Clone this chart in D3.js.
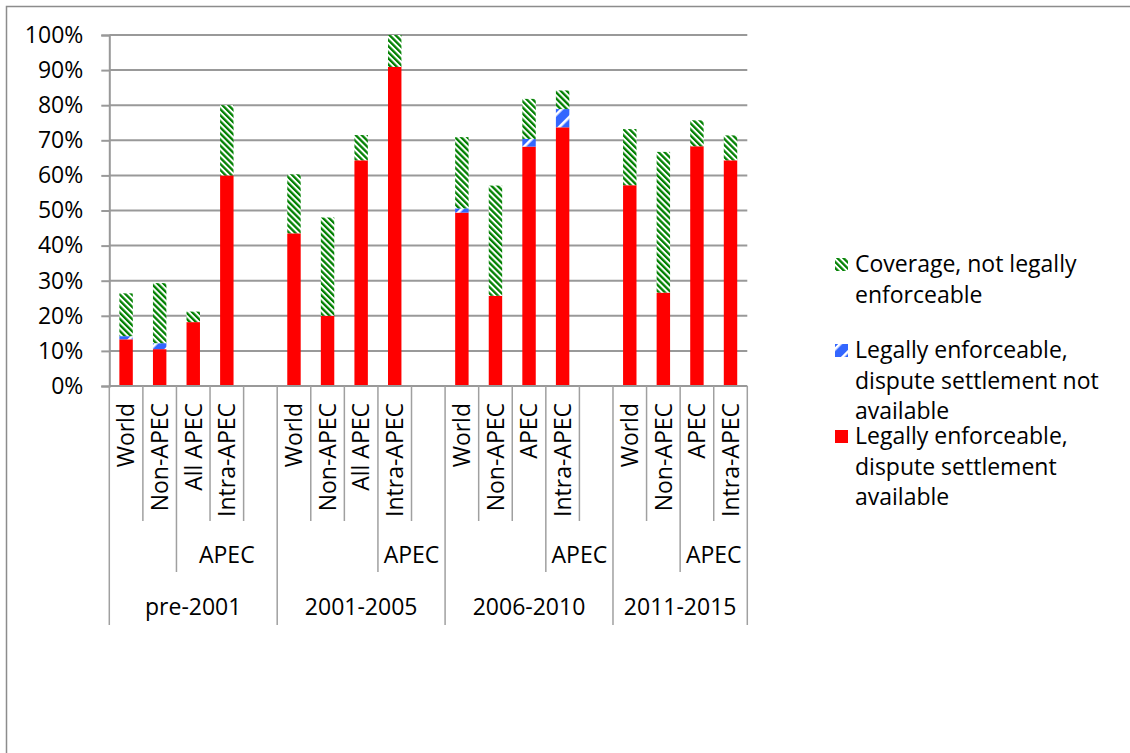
<!DOCTYPE html>
<html>
<head>
<meta charset="utf-8">
<script src="https://cdn.jsdelivr.net/npm/d3@7"></script>
<style>
  html, body { margin: 0; padding: 0; background: #fff; }
  svg { display: block; }
  text { font-family: "Open Sans", Lato, sans-serif; fill: #000; }
</style>
</head>
<body>
<svg id="chart" width="1130" height="753"></svg>
<script>
// Periods and the categories shown within each one
const periods = ["pre-2001", "2001-2005", "2006-2010", "2011-2015"];
const periodCategories = [
  ["World", "Non-APEC", "All APEC", "Intra-APEC"],
  ["World", "Non-APEC", "All APEC", "Intra-APEC"],
  ["World", "Non-APEC", "APEC", "Intra-APEC"],
  ["World", "Non-APEC", "APEC", "Intra-APEC"]
];
// First category of each period that sits under the "APEC" heading
const apecHeadingStart = ["All APEC", "Intra-APEC", "Intra-APEC", "APEC"];
const apecHeading = "APEC";

// Shares of trade (fractions), one value per category in reading order
const enforceableWithDS = [0.133, 0.105, 0.182, 0.600, 0.435, 0.200, 0.643, 0.909, 0.494, 0.257, 0.682, 0.737, 0.572, 0.266, 0.683, 0.643];
const enforceableNoDS   = [0.009, 0.017, 0.000, 0.000, 0.000, 0.000, 0.000, 0.000, 0.012, 0.000, 0.022, 0.052, 0.000, 0.000, 0.000, 0.000];
const coverageOnly      = [0.122, 0.171, 0.030, 0.200, 0.168, 0.280, 0.072, 0.091, 0.203, 0.314, 0.114, 0.053, 0.160, 0.401, 0.074, 0.071];

const seriesKeys = ["withDS", "noDS", "coverage"];
const seriesLabels = {
  coverage: ["Coverage, not legally", "enforceable"],
  noDS: ["Legally enforceable,", "dispute settlement not", "available"],
  withDS: ["Legally enforceable,", "dispute settlement", "available"]
};
const legendOrder = ["coverage", "noDS", "withDS"];
const yTicks = [0, 0.1, 0.2, 0.3, 0.4, 0.5, 0.6, 0.7, 0.8, 0.9, 1.0];

const FONT = 23;
const svg = d3.select("#chart");

// Fill patterns
const defs = svg.append("defs");
const green = defs.append("pattern")
  .attr("id", "pat-coverage").attr("patternUnits", "userSpaceOnUse")
  .attr("width", 4.3).attr("height", 4.3)
  .attr("patternTransform", "rotate(-45)");
green.append("rect").attr("width", 4.3).attr("height", 4.3).attr("fill", "#fff");
green.append("rect").attr("width", 2.3).attr("height", 4.3).attr("fill", "#008000");

const blue = defs.append("pattern")
  .attr("id", "pat-noDS").attr("patternUnits", "userSpaceOnUse")
  .attr("width", 11).attr("height", 11)
  .attr("patternTransform", "rotate(45)");
blue.append("rect").attr("width", 11).attr("height", 11).attr("fill", "#3366ff");
blue.append("rect").attr("width", 2.6).attr("height", 11).attr("fill", "#fff");

const fills = { withDS: "#ff0000", noDS: "url(#pat-noDS)", coverage: "url(#pat-coverage)" };

// Outer frame
svg.append("path")
  .attr("d", "M6.5,753 V6.5 H1130")
  .attr("fill", "none").attr("stroke", "#8c8c8c").attr("stroke-width", 1.5);

// Build slots: each period's categories followed by an empty slot (except the last period)
const slots = [];
const rows = [];
periods.forEach((p, gi) => {
  periodCategories[gi].forEach(c => {
    const key = p + "|" + c;
    slots.push(key);
    rows.push({ key, period: p, category: c });
  });
  if (gi < periods.length - 1) slots.push(p + "|gap");
});
rows.forEach((r, i) => {
  r.withDS = enforceableWithDS[i];
  r.noDS = enforceableNoDS[i];
  r.coverage = coverageOnly[i];
});

const x = d3.scaleBand().domain(slots).range([109.3, 747.3]).paddingInner(0).paddingOuter(0);
const y = d3.scaleLinear().domain([0, 1]).range([386, 35]);

// Gridlines
svg.append("g")
  .selectAll("line").data(yTicks.slice(1)).join("line")
  .attr("x1", 109.3).attr("x2", 747.3)
  .attr("y1", d => y(d)).attr("y2", d => y(d))
  .attr("stroke", "#999").attr("stroke-width", 2);

// Value axis
const yAxis = svg.append("g").attr("transform", "translate(109.3,0)")
  .call(d3.axisLeft(y).tickValues(yTicks).tickFormat(d3.format(".0%")).tickSize(8).tickPadding(18));
yAxis.select(".domain").attr("stroke", "#999").attr("stroke-width", 2);
yAxis.selectAll(".tick line").attr("stroke", "#999").attr("stroke-width", 2);
yAxis.selectAll(".tick text").attr("font-size", FONT).attr("font-family", "'Open Sans', sans-serif").attr("fill", "#000");

// Stacked bars
const stacked = d3.stack().keys(seriesKeys)(rows);
const barW = x.bandwidth() * 0.4;
svg.append("g").selectAll("g").data(stacked).join("g")
  .attr("fill", s => fills[s.key])
  .selectAll("rect").data(s => s.filter(d => d[1] - d[0] > 0)).join("rect")
  .attr("x", d => x(d.data.key) + (x.bandwidth() - barW) / 2)
  .attr("width", barW)
  .attr("y", d => y(d[1]))
  .attr("height", d => y(d[0]) - y(d[1]));

// Category axis baseline
const axisY = y(0);
svg.append("line").attr("x1", 109.3).attr("x2", 747.3).attr("y1", axisY).attr("y2", axisY)
  .attr("stroke", "#999").attr("stroke-width", 2);

// Multi-level category separators
const level1Bottom = 521, level2Bottom = 572, level3Bottom = 625;
const sep = svg.append("g").attr("stroke", "#a0a0a0").attr("stroke-width", 1.5);
const groupStarts = periods.map((p, gi) => x(p + "|" + periodCategories[gi][0]));
const groupEnds = periods.map((p, gi) => gi < periods.length - 1 ? groupStarts[gi + 1] : x.range()[1]);
const apecStarts = periods.map((p, gi) => x(p + "|" + apecHeadingStart[gi]));

slots.forEach(k => {
  const sx = x(k);
  let bottom = level1Bottom;
  if (groupStarts.includes(sx)) bottom = level3Bottom;
  else if (apecStarts.includes(sx)) bottom = level2Bottom;
  sep.append("line").attr("x1", sx).attr("x2", sx).attr("y1", axisY).attr("y2", bottom);
});
sep.append("line").attr("x1", x.range()[1]).attr("x2", x.range()[1]).attr("y1", axisY).attr("y2", level3Bottom);

// Category labels (rotated)
svg.append("g").selectAll("text").data(rows).join("text")
  .attr("transform", d => `translate(${x(d.key) + x.bandwidth() / 2},403) rotate(-90)`)
  .attr("text-anchor", "end").attr("dy", "0.36em")
  .attr("font-size", FONT)
  .text(d => d.category);

// "APEC" headings
svg.append("g").selectAll("text").data(periods).join("text")
  .attr("x", (p, gi) => (apecStarts[gi] + groupEnds[gi]) / 2)
  .attr("y", 555).attr("dy", "0.36em")
  .attr("text-anchor", "middle").attr("font-size", FONT)
  .text(apecHeading);

// Period labels
svg.append("g").selectAll("text").data(periods).join("text")
  .attr("x", (p, gi) => (groupStarts[gi] + groupEnds[gi]) / 2)
  .attr("y", 607).attr("dy", "0.36em")
  .attr("text-anchor", "middle").attr("font-size", FONT)
  .text(p => p);

// Legend
const legend = svg.append("g");
legendOrder.forEach((k, i) => {
  const cy = 264 + i * 86;
  legend.append("rect").attr("x", 835).attr("y", cy - 6).attr("width", 13).attr("height", 13)
    .attr("fill", fills[k]);
  const t = legend.append("text").attr("x", 855).attr("font-size", FONT);
  seriesLabels[k].forEach((line, li) => {
    t.append("tspan").attr("x", 855).attr("y", cy + li * 30.5).attr("dy", "0.36em").text(line);
  });
});
</script>
</body>
</html>
